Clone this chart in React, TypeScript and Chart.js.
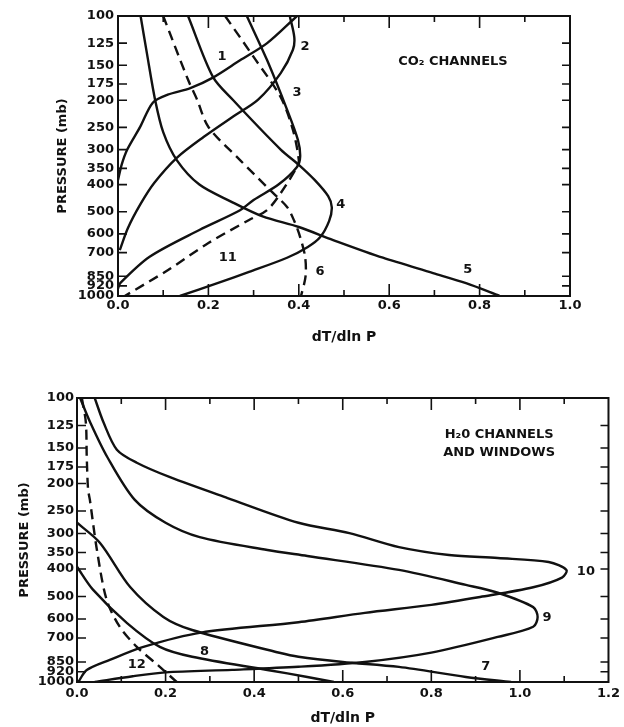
import { useEffect, useRef } from "react";
import { Chart, registerables } from "chart.js";

Chart.register(...registerables);

const INK = "#111111";
const FONT = "'DejaVu Sans', 'Liberation Sans', Arial, sans-serif";

// ---------- shared axis ticks ----------
const PRESSURE_TICKS = [100, 125, 150, 175, 200, 250, 300, 350, 400, 500, 600, 700, 850, 920, 1000];
const X_STEP = 0.2;
const X_TITLE = "dT/dln P";
const Y_TITLE = "PRESSURE (mb)";

// ---------- top panel: CO2 channels ----------
const CO2_X_MAX = 1.0;
const CH1_P = [100, 125, 144, 166, 181, 191, 204, 249, 301, 340, 385];
const CH1_X = [0.396, 0.33, 0.27, 0.21, 0.16, 0.11, 0.077, 0.049, 0.02, 0.008, 0.0];
const CH2_P = [100, 119, 132, 160, 199, 229, 270, 321, 395, 472, 572, 686];
const CH2_X = [0.38, 0.39, 0.387, 0.36, 0.31, 0.254, 0.19, 0.13, 0.08, 0.049, 0.022, 0.004];
const CH3_P = [100, 144, 216, 277, 318, 346, 400, 454, 494, 581, 724, 899, 940];
const CH3_X = [0.285, 0.33, 0.374, 0.398, 0.403, 0.396, 0.355, 0.3, 0.27, 0.18, 0.07, 0.005, 0.0];
const CH4_P = [100, 165, 200, 300, 340, 385, 440, 482, 540, 617, 668, 730, 820, 899, 1000];
const CH4_X = [0.155, 0.21, 0.255, 0.36, 0.4, 0.435, 0.465, 0.473, 0.467, 0.447, 0.42, 0.374, 0.29, 0.22, 0.137];
const CH5_P = [100, 136, 199, 260, 327, 400, 460, 520, 567, 631, 730, 828, 900, 1000];
const CH5_X = [0.05, 0.064, 0.082, 0.1, 0.13, 0.18, 0.25, 0.32, 0.4, 0.476, 0.586, 0.697, 0.77, 0.845];
const CH6_P = [100, 169, 199, 249, 327, 418, 481, 540, 616, 725, 850, 1000];
const CH6_X = [0.1, 0.155, 0.175, 0.2, 0.27, 0.336, 0.374, 0.39, 0.403, 0.414, 0.415, 0.405];
const CH11_P = [100, 140, 195, 255, 327, 346, 429, 493, 535, 647, 809, 1000];
const CH11_X = [0.237, 0.3, 0.36, 0.387, 0.4, 0.396, 0.36, 0.33, 0.29, 0.2, 0.11, 0.015];

const CO2_NOTE_TEXT = ["1", "2", "3", "4", "5", "6", "11", "CO\u2082 CHANNELS"];
const CO2_NOTE_X = [0.23, 0.414, 0.396, 0.493, 0.774, 0.447, 0.243, 0.741];
const CO2_NOTE_P = [140, 129, 188, 472, 808, 821, 731, 146];

// ---------- bottom panel: H2O channels and windows ----------
const H2O_X_MAX = 1.2;
const CH10_P = [100, 122, 152, 169, 190, 225, 275, 299, 335, 357, 366, 378, 403, 429, 464, 502, 535, 571, 616, 670, 752, 836, 908, 1000];
const CH10_X = [0.04, 0.06, 0.09, 0.135, 0.21, 0.34, 0.5, 0.615, 0.727, 0.84, 0.95, 1.065, 1.105, 1.095, 1.03, 0.91, 0.8, 0.65, 0.5, 0.28, 0.15, 0.074, 0.022, 0.003];
const CH9_P = [100, 122, 161, 228, 275, 309, 343, 360, 403, 455, 485, 545, 590, 639, 694, 788, 850, 884, 906, 925, 954, 1000];
const CH9_X = [0.007, 0.03, 0.068, 0.13, 0.2, 0.277, 0.43, 0.52, 0.727, 0.878, 0.95, 1.03, 1.04, 1.03, 0.95, 0.8, 0.65, 0.5, 0.35, 0.2, 0.126, 0.04];
const CH7_P = [275, 324, 463, 590, 656, 789, 815, 850, 885, 960, 1000];
const CH7_X = [0.0, 0.052, 0.12, 0.195, 0.26, 0.457, 0.5, 0.6, 0.727, 0.878, 0.98];
const CH8_P = [393, 473, 620, 752, 815, 907, 960, 1000];
const CH8_X = [0.0, 0.036, 0.113, 0.187, 0.26, 0.43, 0.52, 0.58];
const CH12_P = [100, 122, 161, 210, 228, 343, 514, 641, 752, 884, 1000];
const CH12_X = [0.011, 0.02, 0.022, 0.025, 0.029, 0.045, 0.067, 0.097, 0.135, 0.187, 0.225];

const H2O_NOTE_TEXT = ["10", "9", "7", "8", "12", "H\u20820 CHANNELS", "AND WINDOWS"];
const H2O_NOTE_X = [1.149, 1.061, 0.923, 0.288, 0.135, 0.953, 0.953];
const H2O_NOTE_P = [410, 595, 886, 784, 867, 135, 156];

type Curve = { p: number[]; x: number[]; dashed?: boolean };

const CO2_CURVES: Curve[] = [
  { p: CH1_P, x: CH1_X },
  { p: CH2_P, x: CH2_X },
  { p: CH3_P, x: CH3_X },
  { p: CH4_P, x: CH4_X },
  { p: CH5_P, x: CH5_X },
  { p: CH6_P, x: CH6_X, dashed: true },
  { p: CH11_P, x: CH11_X, dashed: true },
];

const H2O_CURVES: Curve[] = [
  { p: CH10_P, x: CH10_X },
  { p: CH9_P, x: CH9_X },
  { p: CH7_P, x: CH7_X },
  { p: CH8_P, x: CH8_X },
  { p: CH12_P, x: CH12_X, dashed: true },
];

// Frame and inward tick marks, positioned by the chart's own scales
const framePlugin = {
  id: "frameTicks",
  afterDatasetsDraw(chart: any) {
    const { ctx, chartArea } = chart;
    const { left, right, top, bottom } = chartArea;
    const xs = chart.scales.x;
    const ys = chart.scales.y;
    ctx.save();
    ctx.strokeStyle = INK;
    ctx.lineWidth = 2;
    ctx.beginPath();
    ctx.rect(left, top, right - left, bottom - top);
    ctx.stroke();
    ctx.lineWidth = 1.6;
    ctx.beginPath();
    const xt = xs.ticks.map((t: any) => t.value);
    const drawX = (v: number, len: number) => {
      const px = xs.getPixelForValue(v);
      if (px <= left + 1 || px >= right - 1) return;
      ctx.moveTo(px, bottom);
      ctx.lineTo(px, bottom - len);
      ctx.moveTo(px, top);
      ctx.lineTo(px, top + len);
    };
    xt.forEach((v: number) => drawX(v, 12));
    for (let i = 0; i < xt.length - 1; i++) drawX((xt[i] + xt[i + 1]) / 2, 6);
    ys.ticks.forEach((t: any) => {
      const py = ys.getPixelForValue(t.value);
      if (py <= top + 1 || py >= bottom - 1) return;
      ctx.moveTo(left, py);
      ctx.lineTo(left + 9, py);
      ctx.moveTo(right, py);
      ctx.lineTo(right - 8, py);
    });
    ctx.stroke();
    ctx.restore();
  },
};

const notesPlugin = {
  id: "curveNotes",
  afterDatasetsDraw(chart: any, _args: any, opts: any) {
    const { ctx } = chart;
    const xs = chart.scales.x;
    const ys = chart.scales.y;
    ctx.save();
    ctx.fillStyle = INK;
    ctx.font = `bold 13px ${FONT}`;
    ctx.textAlign = "center";
    ctx.textBaseline = "middle";
    (opts.text || []).forEach((t: string, i: number) => {
      ctx.fillText(t, xs.getPixelForValue(opts.x[i]), ys.getPixelForValue(opts.p[i]));
    });
    ctx.restore();
  },
};

type PanelOpts = {
  curves: Curve[];
  xMax: number;
  notes: { text: string[]; x: number[]; p: number[] };
  padTop: number;
  padRight: number;
  yWidth: number;
  xHeight: number;
  yTitlePad: number;
  yTickPad: number;
  xTickPad: number;
  xTitlePad: number;
};

function makeChart(canvas: HTMLCanvasElement, o: PanelOpts) {
  const tickFont = { family: FONT, weight: "bold" as const, size: 13 };
  const datasets = o.curves.map((c) => ({
    data: c.x.map((x, i) => ({ x, y: c.p[i] })),
    showLine: true,
    borderColor: INK,
    backgroundColor: INK,
    borderWidth: 2.4,
    borderDash: c.dashed ? [10, 6] : [],
    pointRadius: 0,
    tension: 0.3,
    fill: false,
  }));
  return new Chart(canvas, {
    type: "scatter",
    data: { datasets },
    options: {
      animation: false,
      responsive: false,
      layout: { padding: { left: 0, right: o.padRight, top: o.padTop, bottom: 0 } },
      plugins: {
        legend: { display: false },
        tooltip: { enabled: false },
        curveNotes: o.notes,
      } as any,
      scales: {
        x: {
          type: "linear",
          min: 0,
          max: o.xMax,
          grid: { display: false, drawTicks: false },
          border: { display: false },
          ticks: {
            stepSize: X_STEP,
            padding: o.xTickPad,
            color: INK,
            font: tickFont,
            maxRotation: 0,
            autoSkip: false,
            callback: (v: any) => Number(v).toFixed(1),
          },
          title: {
            display: true,
            text: X_TITLE,
            color: INK,
            font: { family: FONT, weight: "bold", size: 14 },
            padding: { top: 0, bottom: o.xTitlePad },
          },
          afterFit: (s: any) => {
            s.height = o.xHeight;
          },
        },
        y: {
          type: "logarithmic",
          reverse: true,
          min: 100,
          max: 1000,
          grid: { display: false, drawTicks: false },
          border: { display: false },
          afterBuildTicks: (s: any) => {
            s.ticks = PRESSURE_TICKS.map((v) => ({ value: v }));
          },
          ticks: {
            padding: o.yTickPad,
            color: INK,
            font: tickFont,
            autoSkip: false,
            callback: (v: any) => String(v),
          },
          title: {
            display: true,
            text: Y_TITLE,
            color: INK,
            font: { family: FONT, weight: "bold", size: 13 },
            padding: { top: o.yTitlePad, bottom: 0 },
          },
          afterFit: (s: any) => {
            s.width = o.yWidth;
          },
        },
      },
    } as any,
    plugins: [framePlugin, notesPlugin],
  });
}

export default function App() {
  const topRef = useRef<HTMLCanvasElement>(null);
  const botRef = useRef<HTMLCanvasElement>(null);

  useEffect(() => {
    const c1 = makeChart(topRef.current!, {
      curves: CO2_CURVES,
      xMax: CO2_X_MAX,
      notes: { text: CO2_NOTE_TEXT, x: CO2_NOTE_X, p: CO2_NOTE_P },
      padTop: 16,
      padRight: 54,
      yWidth: 118,
      xHeight: 64,
      yTitlePad: 55,
      yTickPad: 4,
      xTickPad: 2,
      xTitlePad: 14,
    });
    const c2 = makeChart(botRef.current!, {
      curves: H2O_CURVES,
      xMax: H2O_X_MAX,
      notes: { text: H2O_NOTE_TEXT, x: H2O_NOTE_X, p: H2O_NOTE_P },
      padTop: 38,
      padRight: 14,
      yWidth: 77,
      xHeight: 45,
      yTitlePad: 17,
      yTickPad: 3,
      xTickPad: 4,
      xTitlePad: 0,
    });
    return () => {
      c1.destroy();
      c2.destroy();
    };
  }, []);

  return (
    <div style={{ position: "absolute", left: 0, top: 0, width: 624, height: 727, background: "#fff" }}>
      <canvas ref={topRef} width={624} height={360} style={{ position: "absolute", left: 0, top: 0, width: 624, height: 360 }} />
      <canvas ref={botRef} width={624} height={367} style={{ position: "absolute", left: 0, top: 360, width: 624, height: 367 }} />
    </div>
  );
}
